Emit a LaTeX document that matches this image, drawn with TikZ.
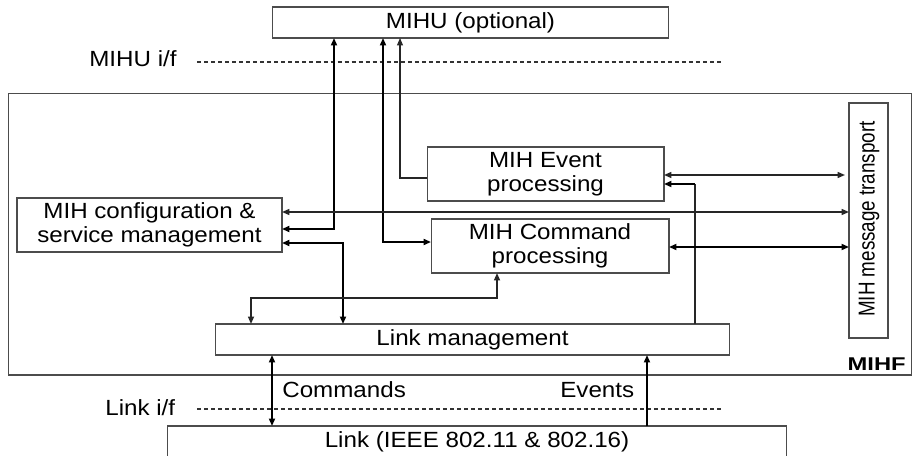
\documentclass[tikz,border=0pt]{standalone}
\usepackage{fontspec}
\setmainfont{Liberation Sans}[FakeStretch=1.1]
\newfontfamily\rotfont{Liberation Sans}
\usetikzlibrary{arrows.meta,calc}
\begin{document}
\begin{tikzpicture}[x=0.02cm,y=-0.02cm,
  font=\fontsize{12.5}{13.4}\selectfont,
  box/.style={draw=black!70,line width=0.6pt,inner sep=0pt,outer sep=0pt,align=center,fill=white},
  tip/.style={-{Triangle[length=0.15cm,width=0.12cm]}},
  dtip/.style={{Triangle[length=0.15cm,width=0.12cm]}-{Triangle[length=0.15cm,width=0.12cm]}},
  thickln/.style={line width=1.2pt,black},
  medln/.style={line width=0.9pt,black!85},
  thinln/.style={line width=0.6pt,black!85},
  ifline/.style={line width=0.6pt,black!80,dash pattern=on 2.3pt off 1.7pt},
  lbl/.style={inner sep=0pt,anchor=base west}]
\useasboundingbox (0,0) rectangle (913,456);
% boxes
\node[box,minimum width=18.08cm,minimum height=5.64cm,fill=none] (mihf) at (460,234) {};
\node[box,minimum width=7.94cm,minimum height=0.62cm] (mihu) at (470.5,22.5) {MIHU (optional)};
\node[box,minimum width=0.78cm,minimum height=4.7cm] (trans) at (868.5,220.5) {};
\node[inner sep=0pt,rotate=90] (transtxt) at (869,219) {\rotfont\fontsize{11.9}{13}\selectfont\scalebox{0.9}[1.1]{MIH message transport}};
\node[box,minimum width=4.74cm,minimum height=1.08cm] (event) at (545.5,174) {MIH Event\\processing};
\node[box,minimum width=4.76cm,minimum height=1.08cm] (cmd) at (550,246) {MIH Command\\processing};
\node[box,minimum width=5.3cm,minimum height=1.08cm] (cfg) at (149.5,225) {MIH configuration \&\\service management};
\node[box,minimum width=10.3cm,minimum height=0.62cm] (lm) at (472.5,339.5) {Link management};
\node[box,minimum width=12.4cm,minimum height=0.64cm] (link) at (477,442) {Link (IEEE 802.11 \& 802.16)};
% labels
\node[lbl] (mihuif) at (89,67) {MIHU i/f};
\node[lbl] (linkif) at (105,415) {Link i/f};
\node[lbl] (cmds) at (282,397) {Commands};
\node[lbl] (evts) at (560,397) {Events};
\node[inner sep=0pt,anchor=base east] (mihflbl) at (906,370) {\fontsize{10.5}{12}\selectfont\scalebox{1.17}[1]{\textbf{MIHF}}};
% interface dashed lines
\coordinate (d1a) at (197,62); \coordinate (d1b) at (722,62);
\coordinate (d2a) at (197,409); \coordinate (d2b) at (723,409);
\draw[ifline] (d1a) -- (d1b);
\draw[ifline] (d2a) -- (d2b);
% track coordinates
\coordinate (cA) at (334,229);
\coordinate (cB) at (383,242);
\coordinate (cC) at (400,178);
\coordinate (cD) at (343,243);
\coordinate (cE) at (695,184);
\coordinate (cF) at (251,298);
\coordinate (cG) at (497,298);
\coordinate (yCT) at (0,212);
\coordinate (yET) at (0,175);
\coordinate (yMT) at (0,247);
\coordinate (xCo) at (272,0);
\coordinate (xEv) at (647,0);
% connectors
\draw[thickln,dtip] (mihu.south -| cA) -- (cA) -- (cfg.east |- cA);
\draw[thickln,dtip] (mihu.south -| cB) -- (cB) -- (cmd.west |- cB);
\draw[thinln,tip] (event.west |- cC) -- (cC) -- (mihu.south -| cC);
\draw[medln,dtip] (cfg.east |- yCT) -- (trans.west |- yCT);
\draw[thickln,dtip] (cfg.east |- cD) -- (cD) -- (lm.north -| cD);
\draw[medln,dtip] (event.east |- yET) -- ($(trans.west |- yET)+(-4,0)$);
\draw[thinln] (lm.north -| cE) -- (cE);
\draw[thickln,tip] (cE) -- (event.east |- cE);
\draw[thickln,dtip] (cmd.east |- yMT) -- (trans.west |- yMT);
\draw[medln,dtip] (lm.north -| cF) -- (cF) -- (cG) -- (cmd.south -| cG);
\draw[thickln,dtip] (lm.south -| xCo) -- (link.north -| xCo);
\draw[thickln,tip] (link.north -| xEv) -- (lm.south -| xEv);
\end{tikzpicture}
\end{document}
